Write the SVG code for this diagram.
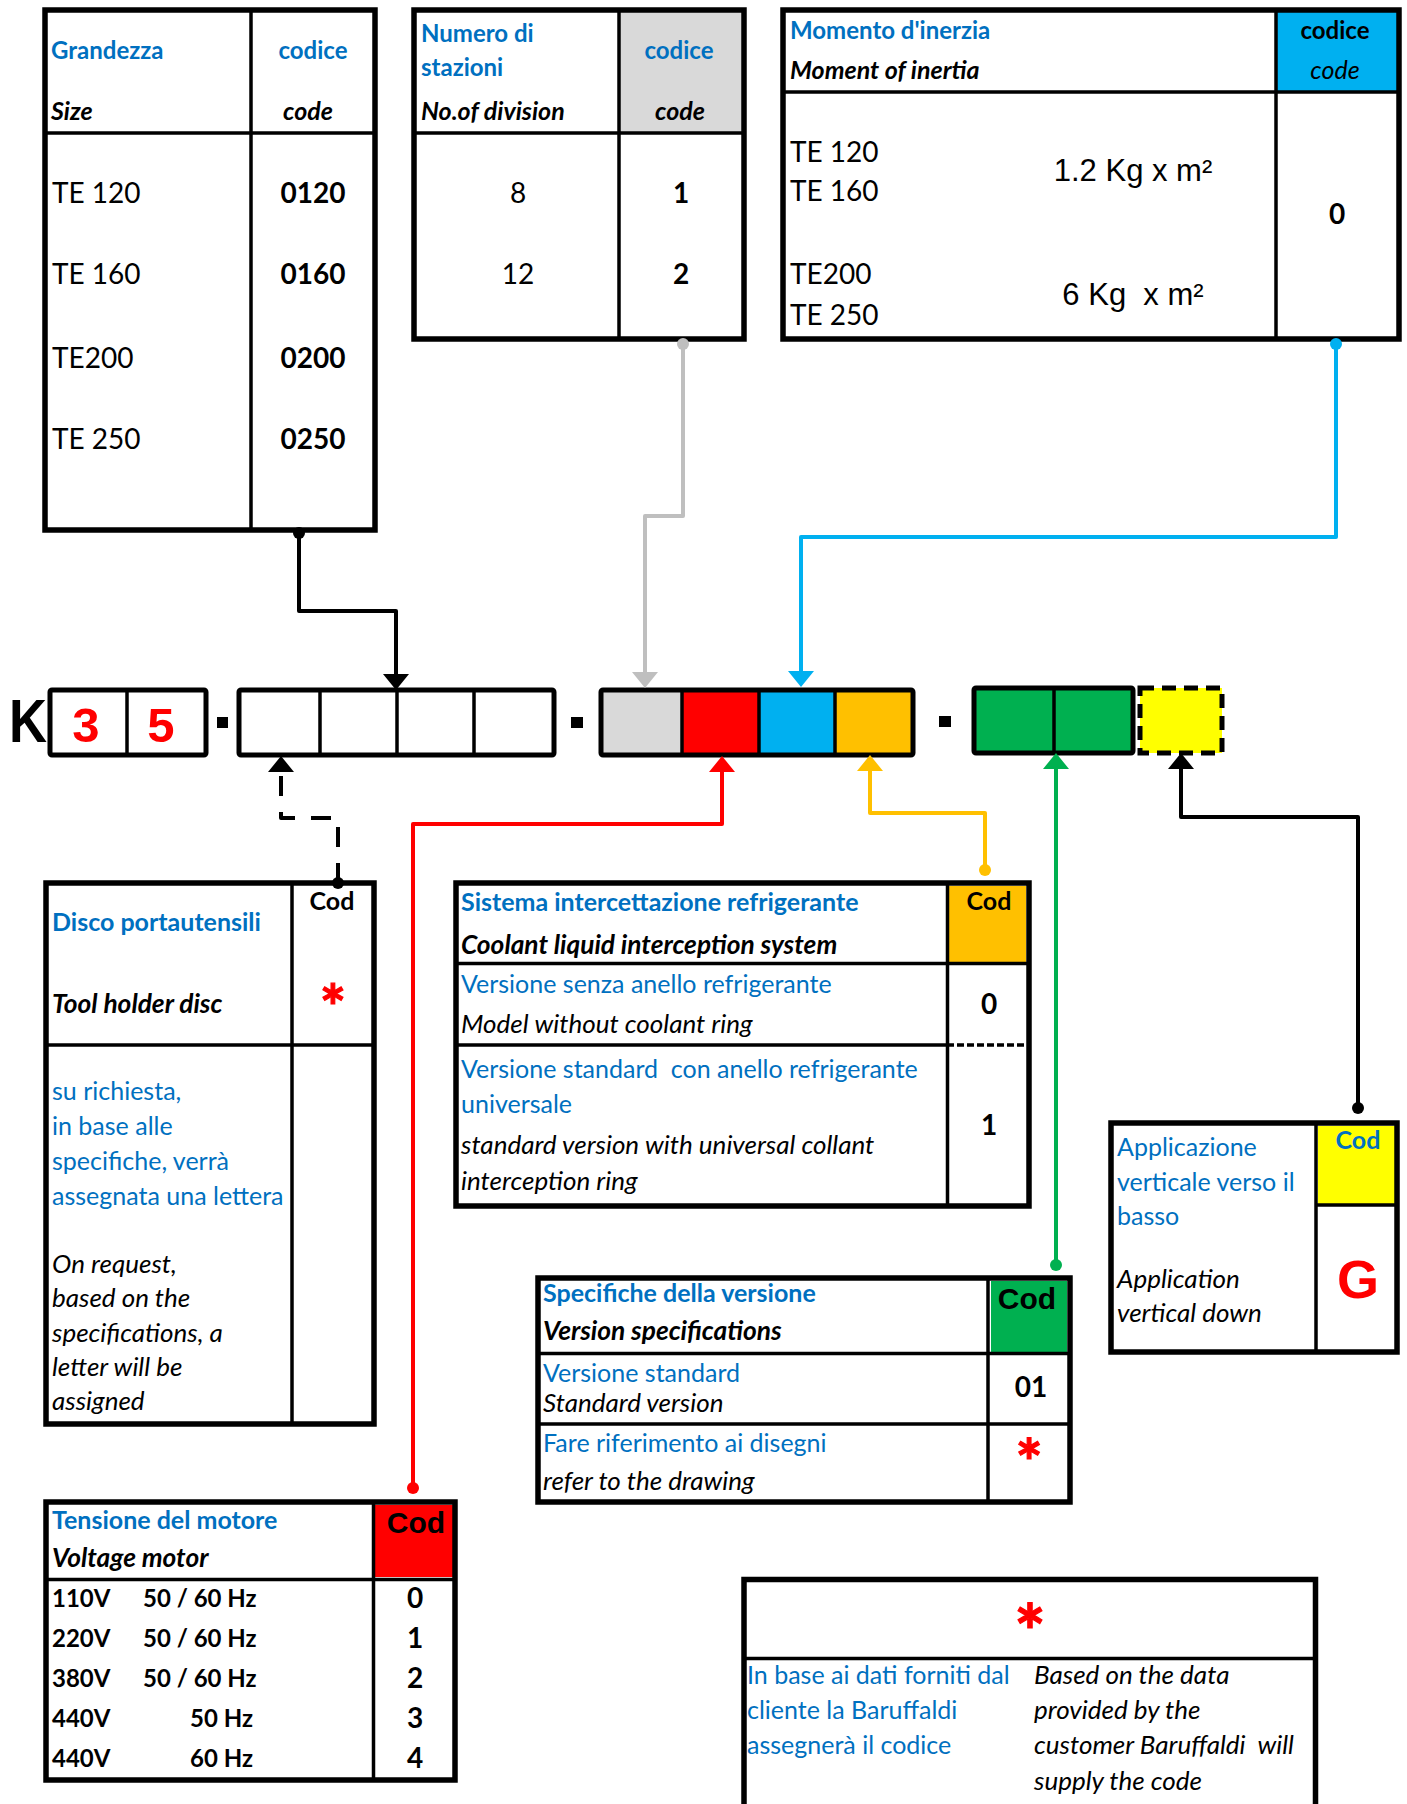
<svg xmlns="http://www.w3.org/2000/svg" width="1407" height="1804" viewBox="0 0 1407 1804">
<defs>
<style>
text{font-family:Lato,"Noto Sans",sans-serif;fill:#000}
.ar{font-family:"Liberation Sans",Arial,sans-serif}
.bl{fill:#0070c0}
.rd{fill:#ff0000}
.b{font-weight:700}
.i{font-style:italic}
.m{text-anchor:middle}
.e{text-anchor:end}
.h{font-size:24px}
.hi{font-size:25px}
.r{font-size:28px}
.p{font-size:25px}
.pi{font-size:26px}
.pbi{font-size:26.3px}
.ob{fill:none;stroke:#000;stroke-width:5.5}
.ln{stroke:#000;stroke-width:3.5;fill:none}
.cb{stroke:#000;stroke-width:5;stroke-linejoin:round}
.cn{fill:none;stroke-width:4;stroke-linejoin:round}
.ast{stroke:#ff0000;stroke-width:1.2}
</style>
<marker id="ak" viewBox="0 0 16 26" refX="0" refY="13" markerWidth="16" markerHeight="26" markerUnits="userSpaceOnUse" orient="auto"><path d="M0,0L16,13L0,26z" fill="#000"/></marker>
<marker id="ag" viewBox="0 0 16 26" refX="0" refY="13" markerWidth="16" markerHeight="26" markerUnits="userSpaceOnUse" orient="auto"><path d="M0,0L16,13L0,26z" fill="#bfbfbf"/></marker>
<marker id="ab" viewBox="0 0 16 26" refX="0" refY="13" markerWidth="16" markerHeight="26" markerUnits="userSpaceOnUse" orient="auto"><path d="M0,0L16,13L0,26z" fill="#00b0f0"/></marker>
<marker id="ar" viewBox="0 0 16 26" refX="0" refY="13" markerWidth="16" markerHeight="26" markerUnits="userSpaceOnUse" orient="auto"><path d="M0,0L16,13L0,26z" fill="#ff0000"/></marker>
<marker id="ao" viewBox="0 0 16 26" refX="0" refY="13" markerWidth="16" markerHeight="26" markerUnits="userSpaceOnUse" orient="auto"><path d="M0,0L16,13L0,26z" fill="#ffc000"/></marker>
<marker id="an" viewBox="0 0 16 26" refX="0" refY="13" markerWidth="16" markerHeight="26" markerUnits="userSpaceOnUse" orient="auto"><path d="M0,0L16,13L0,26z" fill="#00b050"/></marker>
</defs>
<rect width="1407" height="1804" fill="#fff"/>

<g id="size-table">
<line class="ln" x1="251" y1="10" x2="251" y2="530"/>
<line class="ln" x1="45" y1="133" x2="375" y2="133" stroke-width="4"/>
<rect class="ob" x="45" y="10" width="330" height="520"/>
<text class="bl b h" x="51" y="59">Grandezza</text>
<text class="bl b h m" x="313" y="59">codice</text>
<text class="b i hi" x="51" y="120">Size</text>
<text class="b i hi m" x="308" y="120">code</text>
<text class="r" x="52" y="203">TE 120</text>
<text class="r" x="52" y="284">TE 160</text>
<text class="r" x="52" y="368">TE200</text>
<text class="r" x="52" y="449">TE 250</text>
<text class="r b m" x="313" y="203">0120</text>
<text class="r b m" x="313" y="284">0160</text>
<text class="r b m" x="313" y="368">0200</text>
<text class="r b m" x="313" y="449">0250</text>
</g>

<g id="stations-table">
<rect x="619" y="10" width="125" height="123" fill="#d9d9d9"/>
<line class="ln" x1="619" y1="10" x2="619" y2="339"/>
<line class="ln" x1="414" y1="133" x2="744" y2="133" stroke-width="4"/>
<rect class="ob" x="414" y="10" width="330" height="329"/>
<text class="bl b h" x="421" y="42">Numero di</text>
<text class="bl b h" x="421" y="76">stazioni</text>
<text class="b i hi" x="421" y="120">No.of division</text>
<text class="bl b h m" x="679" y="59">codice</text>
<text class="b i hi m" x="680" y="120">code</text>
<text class="r m" x="518" y="203">8</text>
<text class="r m" x="518" y="284">12</text>
<text class="r b m" x="681" y="203">1</text>
<text class="r b m" x="681" y="284">2</text>
</g>

<g id="inertia-table">
<rect x="1276" y="10" width="123" height="82" fill="#00b0f0"/>
<line class="ln" x1="1276" y1="10" x2="1276" y2="339"/>
<line class="ln" x1="783" y1="92" x2="1399" y2="92"/>
<rect class="ob" x="783" y="10" width="616" height="329"/>
<text class="bl b h" x="790" y="39">Momento d'inerzia</text>
<text class="b i hi" x="790" y="79">Moment of inertia</text>
<text class="b h m" x="1335" y="39">codice</text>
<text class="i hi m" x="1335" y="79">code</text>
<text class="r" x="790" y="162">TE 120</text>
<text class="r" x="790" y="201">TE 160</text>
<text class="r" x="790" y="284">TE200</text>
<text class="r" x="790" y="325">TE 250</text>
<text class="ar m" x="1133" y="181" font-size="31">1.2 Kg x m²</text>
<text class="ar m" x="1133" y="305" font-size="31">6 Kg&#160; x m²</text>
<text class="r b m" x="1337" y="224">0</text>
</g>

<g id="code-bar">
<text class="ar b" x="9" y="742" font-size="62" textLength="38" lengthAdjust="spacingAndGlyphs">K</text>
<rect class="cb" x="50" y="690" width="156" height="65" fill="#fff" rx="2"/>
<line class="ln" x1="127" y1="690" x2="127" y2="755"/>
<text class="ar b rd m" x="86" y="742" font-size="49">3</text>
<text class="ar b rd m" x="161" y="742" font-size="49">5</text>
<rect x="217" y="717" width="11" height="11" fill="#000"/>
<rect class="cb" x="239" y="690" width="315" height="65" fill="#fff" rx="2"/>
<line class="ln" x1="320" y1="690" x2="320" y2="755"/>
<line class="ln" x1="397" y1="690" x2="397" y2="755"/>
<line class="ln" x1="474" y1="690" x2="474" y2="755"/>
<rect x="571" y="717" width="12" height="11" fill="#000"/>
<rect x="601" y="690" width="81" height="65" fill="#d9d9d9"/>
<rect x="682" y="690" width="77" height="65" fill="#ff0000"/>
<rect x="759" y="690" width="77" height="65" fill="#00b0f0"/>
<rect x="836" y="690" width="77" height="65" fill="#ffc000"/>
<line class="ln" x1="682" y1="690" x2="682" y2="755"/>
<line class="ln" x1="759" y1="690" x2="759" y2="755"/>
<line class="ln" x1="835" y1="690" x2="835" y2="755"/>
<rect class="cb" x="601" y="690" width="312" height="65" fill="none" rx="2"/>
<rect x="939" y="716" width="12" height="11" fill="#000"/>
<rect class="cb" x="974" y="688" width="159" height="65" fill="#00b050" rx="2"/>
<line class="ln" x1="1054" y1="688" x2="1054" y2="753"/>
<rect x="1140" y="688" width="82" height="65" fill="#ffff00" stroke="#000" stroke-width="5" stroke-dasharray="14 8"/>
</g>

<g id="tool-disc-table">
<line class="ln" x1="292" y1="883" x2="292" y2="1424" stroke-width="4.5"/>
<line class="ln" x1="46" y1="1045" x2="374" y2="1045" stroke-width="5"/>
<rect class="ob" x="46" y="883" width="328" height="541"/>
<text class="b p m" x="332" y="910">Cod</text>
<text class="bl b p" x="52" y="931">Disco portautensili</text>
<text class="b i pbi" x="52" y="1013">Tool holder disc</text>
<text class="b rd m ast" x="333" y="1030" font-size="62">*</text>
<text class="bl p" x="52" y="1100">su richiesta,</text>
<text class="bl p" x="52" y="1135">in base alle</text>
<text class="bl p" x="52" y="1170">specifiche, verrà</text>
<text class="bl p" x="52" y="1205">assegnata una lettera</text>
<text class="i pi" x="52" y="1273">On request,</text>
<text class="i pi" x="52" y="1307">based on the</text>
<text class="i pi" x="52" y="1342">specifications, a</text>
<text class="i pi" x="52" y="1376">letter will be</text>
<text class="i pi" x="52" y="1410">assigned</text>
</g>

<g id="coolant-table">
<rect x="949" y="886" width="77" height="77" fill="#ffc000"/>
<line class="ln" x1="947.5" y1="883" x2="947.5" y2="1206"/>
<line class="ln" x1="456" y1="963.5" x2="1029" y2="963.5"/>
<line class="ln" x1="456" y1="1045" x2="947" y2="1045"/>
<line class="ln" x1="947" y1="1045" x2="1029" y2="1045" stroke-width="3" stroke-dasharray="7 3"/>
<rect class="ob" x="456" y="883" width="573" height="323"/>
<text class="bl b p" x="461" y="911">Sistema intercettazione refrigerante</text>
<text class="b i pbi" x="461" y="954">Coolant liquid interception system</text>
<text class="b p m" x="989" y="910">Cod</text>
<text class="bl p" x="461" y="993">Versione senza anello refrigerante</text>
<text class="i pi" x="461" y="1033">Model without coolant ring</text>
<text class="b r m" x="989" y="1014">0</text>
<text class="bl p" x="461" y="1078" xml:space="preserve">Versione standard  con anello refrigerante</text>
<text class="bl p" x="461" y="1113">universale</text>
<text class="i pi" x="461" y="1154">standard version with universal collant</text>
<text class="i pi" x="461" y="1190">interception ring</text>
<text class="b r m" x="989" y="1135">1</text>
</g>

<g id="application-table">
<rect x="1318" y="1126" width="77" height="79" fill="#ffff00"/>
<line class="ln" x1="1316" y1="1123" x2="1316" y2="1352" stroke-width="4.5"/>
<line class="ln" x1="1316" y1="1205" x2="1397" y2="1205"/>
<rect class="ob" x="1111" y="1123" width="286" height="229"/>
<text class="bl p" x="1117" y="1156">Applicazione</text>
<text class="bl p" x="1117" y="1191">verticale verso il</text>
<text class="bl p" x="1117" y="1225">basso</text>
<text class="i pi" x="1117" y="1288">Application</text>
<text class="i pi" x="1117" y="1322">vertical down</text>
<text class="bl b p m" x="1358" y="1149">Cod</text>
<text class="ar b rd m" x="1358" y="1298" font-size="54">G</text>
</g>

<g id="version-table">
<rect x="991" y="1281" width="76" height="71" fill="#00b050"/>
<line class="ln" x1="988" y1="1278" x2="988" y2="1502" stroke-width="4.5"/>
<line class="ln" x1="538" y1="1353.5" x2="1070" y2="1353.5"/>
<line class="ln" x1="538" y1="1424" x2="1070" y2="1424"/>
<rect class="ob" x="538" y="1278" width="532" height="224"/>
<text class="bl b p" x="543" y="1302">Specifiche della versione</text>
<text class="b i pbi" x="543" y="1340">Version specifications</text>
<text class="ar b m" x="1027" y="1309" font-size="30">Cod</text>
<text class="bl p" x="543" y="1382">Versione standard</text>
<text class="i pi" x="543" y="1412">Standard version</text>
<text class="b r m" x="1031" y="1397">01</text>
<text class="bl p" x="543" y="1452">Fare riferimento ai disegni</text>
<text class="i pi" x="543" y="1490">refer to the drawing</text>
<text class="b rd m ast" x="1029" y="1486" font-size="64">*</text>
</g>

<g id="voltage-table">
<rect x="375" y="1505" width="78" height="72" fill="#ff0000"/>
<line class="ln" x1="373.5" y1="1502" x2="373.5" y2="1780"/>
<line class="ln" x1="46" y1="1579.5" x2="455" y2="1579.5"/>
<rect class="ob" x="46" y="1502" width="409" height="278"/>
<text class="bl b p" x="52" y="1529">Tensione del motore</text>
<text class="b i pbi" x="52" y="1567">Voltage motor</text>
<text class="ar b m" x="416" y="1533" font-size="30">Cod</text>
<g class="b" font-size="24">
<text x="52" y="1607">110V</text>
<text x="52" y="1647">220V</text>
<text x="52" y="1687">380V</text>
<text x="52" y="1727">440V</text>
<text x="52" y="1767">440V</text>
<text x="143" y="1607">50 / 60 Hz</text>
<text x="143" y="1647">50 / 60 Hz</text>
<text x="143" y="1687">50 / 60 Hz</text>
<text class="e" x="253" y="1727">50 Hz</text>
<text class="e" x="253" y="1767">60 Hz</text>
</g>
<g class="b r m">
<text x="415" y="1608">0</text>
<text x="415" y="1648">1</text>
<text x="415" y="1688">2</text>
<text x="415" y="1728">3</text>
<text x="415" y="1768">4</text>
</g>
</g>

<g id="note-table">
<path class="ob" d="M744,1806V1579.5H1315.5V1806"/>
<line class="ln" x1="744" y1="1658.5" x2="1315.5" y2="1658.5"/>
<text class="b rd m ast" x="1030" y="1659" font-size="74">*</text>
<text class="bl p" x="747" y="1684">In base ai dati forniti dal</text>
<text class="bl p" x="747" y="1719">cliente la Baruffaldi</text>
<text class="bl p" x="747" y="1754">assegnerà il codice</text>
<text class="i pi" x="1034" y="1684">Based on the data</text>
<text class="i pi" x="1034" y="1719">provided by the</text>
<text class="i pi" x="1034" y="1754" xml:space="preserve">customer Baruffaldi  will</text>
<text class="i pi" x="1034" y="1790">supply the code</text>
</g>

<g id="connectors">
<path class="cn" stroke="#000" d="M299,533V611H396V674" marker-end="url(#ak)"/>
<circle cx="299" cy="533" r="6" fill="#000"/>
<path class="cn" stroke="#bfbfbf" d="M683,344V516H645V672" marker-end="url(#ag)"/>
<circle cx="683" cy="344" r="6" fill="#bfbfbf"/>
<path class="cn" stroke="#00b0f0" d="M1336,344V537H801V671" marker-end="url(#ab)"/>
<circle cx="1336" cy="344" r="6" fill="#00b0f0"/>
<path class="cn" stroke="#000" stroke-dasharray="20 16" stroke-linejoin="miter" d="M338,883V818H281V772" marker-end="url(#ak)"/>
<circle cx="338" cy="883" r="6" fill="#000"/>
<path class="cn" stroke="#ff0000" d="M413,1488V824H722V772" marker-end="url(#ar)"/>
<circle cx="413" cy="1488" r="6" fill="#ff0000"/>
<path class="cn" stroke="#ffc000" d="M985,870V813H870V771" marker-end="url(#ao)"/>
<circle cx="985" cy="870" r="6" fill="#ffc000"/>
<path class="cn" stroke="#00b050" d="M1056,1265V769" marker-end="url(#an)"/>
<circle cx="1056" cy="1265" r="6" fill="#00b050"/>
<path class="cn" stroke="#000" d="M1358,1108V817H1181V769" marker-end="url(#ak)"/>
<circle cx="1358" cy="1108" r="6" fill="#000"/>
</g>
</svg>
